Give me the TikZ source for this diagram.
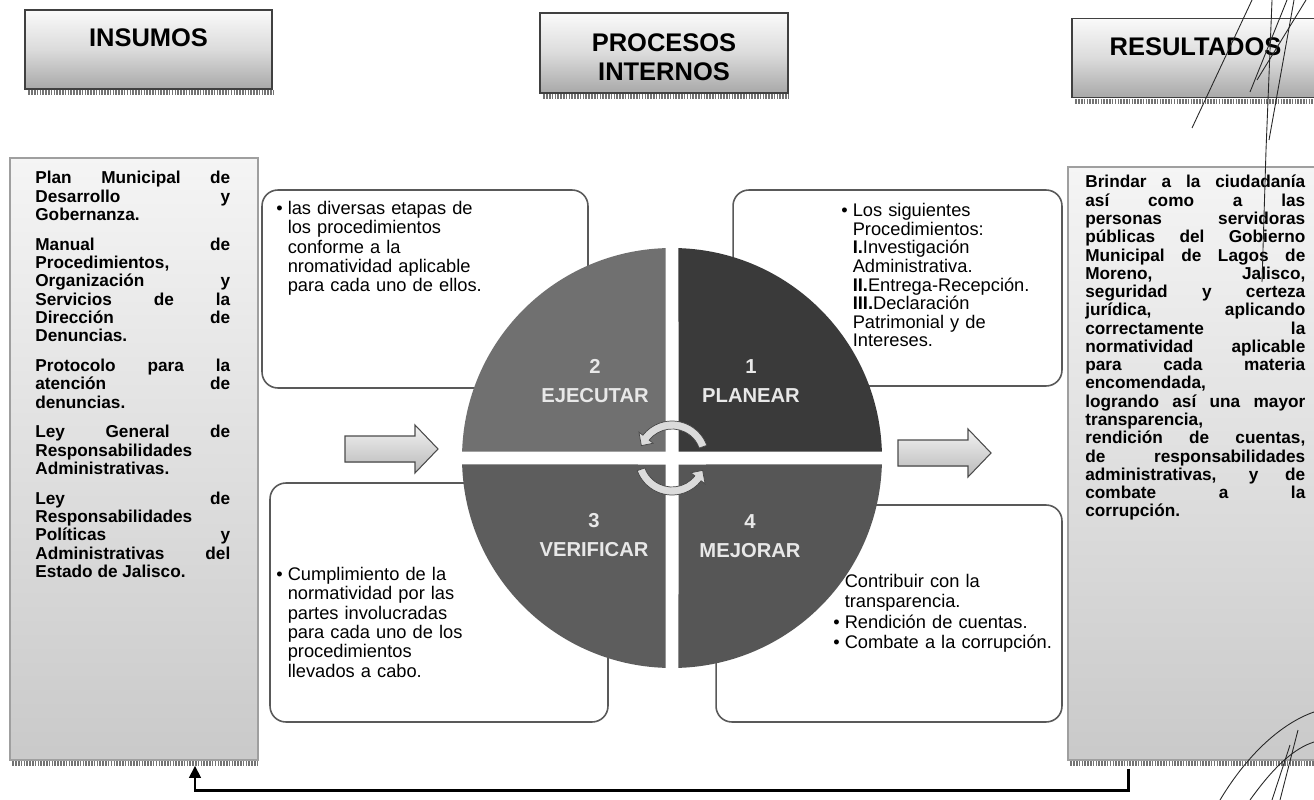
\documentclass[tikz,border=0pt]{standalone}
\usepackage{fontspec}
\setmainfont{Liberation Sans}
\usetikzlibrary{arrows.meta, positioning, calc}
\usepackage{xcolor}
\definecolor{pdcaOne}{RGB}{58, 58, 58}
\definecolor{pdcaTwo}{RGB}{112, 112, 112}
\definecolor{pdcaThree}{RGB}{93, 93, 93}
\definecolor{pdcaFour}{RGB}{86, 86, 86}
\definecolor{pdcaText}{RGB}{232, 232, 232}

\newcommand{\bul}{\makebox[6.5pt][l]{\textbullet}}
\newcommand{\ind}{\hspace*{6.5pt}}

\begin{document}
\begin{tikzpicture}[
    x=0.02cm, y=-0.02cm,
    hdrbox/.style={
        rectangle,
        draw=black!75,
        line width=0.8pt,
        top color=gray!4,
        bottom color=gray!68,
        middle color=gray!28,
        minimum width=4.94cm,
        minimum height=1.58cm
    },
    hdrtext/.style={
        font=\fontsize{14.5}{16.4}\selectfont\bfseries,
        align=center,
        inner sep=0pt,
        anchor=north
    },
    sidebox/.style={
        rectangle,
        draw=gray!75,
        line width=0.8pt,
        top color=gray!8,
        bottom color=gray!42
    },
    sidetext/.style={
        font=\fontsize{9.8}{10.4}\selectfont\bfseries,
        text width=3.9cm,
        align=justify,
        inner sep=0pt,
        anchor=north west,
        execute at begin node={\tolerance=10000\hbadness=10000}
    },
    notebox/.style={
        rectangle,
        rounded corners=9pt,
        draw=black!65,
        line width=0.9pt,
        fill=white
    },
    notetext/.style={
        font=\fontsize{10.4}{11}\selectfont,
        text width=4.4cm,
        align=left,
        inner sep=0pt,
        anchor=north west
    },
    qlabel/.style={
        font=\fontsize{11.5}{16.4}\selectfont\bfseries,
        text=pdcaText,
        align=center,
        inner sep=0pt
    },
    cyclearrow/.style={fill=gray!28, draw=gray!55!black, line width=0.4pt},
    flowarrow/.style={top color=gray!10, bottom color=gray!55, draw=gray!60!black, line width=0.6pt},
    hatch/.style={line width=3pt, dash pattern=on 0.9pt off 0.7pt, draw=black!55},
    feedback/.style={line width=1.7pt, draw=black, -{Triangle[length=7pt,width=6.5pt]}},
    sig/.style={line width=0.5pt, draw=black!85}
]

\useasboundingbox (0,0) rectangle (1314,800);
\fill[white] (0,0) rectangle (1314,800);

% Headers
\node[hdrbox] (insumosHdr) at (148.5,49.5) {};
\node[hdrbox, minimum width=4.96cm, minimum height=1.6cm] (procesosHdr) at (664,53) {};
\node[hdrbox] (resultadosHdr) at (1195.5,58) {};
\draw[hatch] ($(insumosHdr.south west)+(4,3)$) -- ($(insumosHdr.south east)+(2,3)$);
\draw[hatch] ($(procesosHdr.south west)+(4,3)$) -- ($(procesosHdr.south east)+(2,3)$);
\draw[hatch] ($(resultadosHdr.south west)+(4,3)$) -- ($(resultadosHdr.south east)+(2,3)$);
\node[hdrtext] (insumosLbl) at ($(insumosHdr.north)+(0,19)$) {INSUMOS};
\node[hdrtext] (procesosLbl) at ($(procesosHdr.north)+(0,21)$) {PROCESOS\\INTERNOS};
\node[hdrtext] (resultadosLbl) at ($(resultadosHdr.north)+(0,20)$) {RESULTADOS};

% Left column - inputs
\node[sidebox, minimum width=4.96cm, minimum height=12.04cm] (insumosBox) at (134,459) {};
\draw[hatch] ($(insumosBox.south west)+(3,3)$) -- ($(insumosBox.south east)+(1,3)$);
\node[sidetext] (insumosTxt) at (35,171) {
    Plan Municipal de\linebreak Desarrollo y\linebreak Gobernanza.\par\vspace{6.6pt}
    Manual de\linebreak Procedimientos,\linebreak Organización y\linebreak Servicios de la\linebreak Dirección de\linebreak Denuncias.\par\vspace{6.6pt}
    Protocolo para la\linebreak atención de\linebreak denuncias.\par\vspace{6.6pt}
    Ley General de\linebreak Responsabilidades\linebreak Administrativas.\par\vspace{6.6pt}
    Ley de\linebreak Responsabilidades\linebreak Políticas y\linebreak Administrativas del\linebreak Estado de Jalisco.
};

% Right column - results
\node[sidebox, minimum width=5cm, minimum height=11.86cm] (resultadosBox) at (1193,463.5) {};
\draw[hatch] ($(resultadosBox.south west)+(3,3)$) -- ($(resultadosBox.south east)+(1,3)$);
\node[sidetext, text width=4.4cm] (resultadosTxt) at (1085,175) {
    Brindar a la ciudadanía\linebreak así como a las\linebreak personas servidoras\linebreak públicas del Gobierno\linebreak Municipal de Lagos de\linebreak Moreno, Jalisco,\linebreak seguridad y certeza\linebreak jurídica, aplicando\linebreak correctamente la\linebreak normatividad aplicable\linebreak para cada materia\linebreak encomendada,\\
    logrando así una mayor\linebreak transparencia,\\
    rendición de cuentas,\linebreak de responsabilidades\linebreak administrativas, y de\linebreak combate a la\linebreak corrupción.
};

% Note boxes around the cycle
\node[notebox, minimum width=6.52cm, minimum height=3.96cm] (ejecutarBox) at (425,289) {};
\node[notebox, minimum width=6.58cm, minimum height=3.92cm] (planearBox) at (897.5,288) {};
\node[notebox, minimum width=6.76cm, minimum height=4.78cm] (verificarBox) at (439,602.5) {};
\node[notebox, minimum width=6.92cm, minimum height=4.34cm] (mejorarBox) at (889,613.5) {};

\node[notetext] (ejecutarTxt) at (276,201) {\bul las diversas etapas de\\ \ind los procedimientos\\ \ind conforme a la\\ \ind nromatividad aplicable\\ \ind para cada uno de ellos.};
\node[notetext, font=\fontsize{10.4}{10.6}\selectfont] (planearTxt) at (841,203) {\bul Los siguientes\\ \ind Procedimientos:\\ \ind \textbf{I.}Investigación\\ \ind Administrativa.\\ \ind \textbf{II.}Entrega-Recepción.\\ \ind \textbf{III.}Declaración\\ \ind Patrimonial y de\\ \ind Intereses.};
\node[notetext] (verificarTxt) at (276,567) {\bul Cumplimiento de la\\ \ind normatividad por las\\ \ind partes involucradas\\ \ind para cada uno de los\\ \ind procedimientos\\ \ind llevados a cabo.};
\node[notetext, font=\fontsize{10.4}{11.5}\selectfont] (mejorarTxt) at (833,574) {\bul Contribuir con la\\ \ind transparencia.\\ \bul Rendición de cuentas.\\ \bul Combate a la corrupción.};

% PDCA circle
\begin{scope}[shift={(672,458)}, yscale=-1]
    \fill[pdcaOne] (6.5,6.5) -- (88.23:210) arc[start angle=88.23, end angle=1.77, radius=210] -- cycle;
    \fill[pdcaTwo] (-6.5,6.5) -- (91.77:210) arc[start angle=91.77, end angle=178.23, radius=210] -- cycle;
    \fill[pdcaThree] (-6.5,-6.5) -- (181.77:210) arc[start angle=181.77, end angle=268.23, radius=210] -- cycle;
    \fill[pdcaFour] (6.5,-6.5) -- (271.77:210) arc[start angle=271.77, end angle=358.23, radius=210] -- cycle;
    % cycle arrows
    \filldraw[cyclearrow] (20:37) arc[start angle=20, end angle=142, radius=37] -- (142:42) -- (158:33) -- (142:24) -- (142:29) arc[start angle=142, end angle=20, radius=29] -- cycle;
    \filldraw[cyclearrow] (200:37) arc[start angle=200, end angle=322, radius=37] -- (322:42) -- (338:33) -- (322:24) -- (322:29) arc[start angle=322, end angle=200, radius=29] -- cycle;
\end{scope}

\node[qlabel] (planearLbl) at (751,381) {1\\PLANEAR};
\node[qlabel] (ejecutarLbl) at (595,381) {2\\EJECUTAR};
\node[qlabel] (verificarLbl) at (594,535) {3\\VERIFICAR};
\node[qlabel] (mejorarLbl) at (750,536) {4\\MEJORAR};

% Flow arrows
\filldraw[flowarrow, shift={(345,436)}] (0,0) -- (70,0) -- (70,-11) -- (93,13) -- (70,37) -- (70,26) -- (0,26) -- cycle;
\filldraw[flowarrow, shift={(898,440)}] (0,0) -- (70,0) -- (70,-11) -- (93,13) -- (70,37) -- (70,26) -- (0,26) -- cycle;

% Feedback loop
\draw[feedback] ($(resultadosBox.south)+(-65,8)$) -- ++(0,22) -| ($(insumosBox.south)+(61,5)$);

% Signature strokes
\draw[sig] (1192,128) -- (1252,0);
\draw[sig] (1250,92) -- (1287,0);
\draw[sig] (1257,80) -- (1306,0);
\draw[sig] (1262,282) -- (1266,150) -- (1272,0);
\draw[sig] (1269,140) -- (1294,0);
\draw[sig] (1220,800) .. controls (1250,750) and (1285,722) .. (1314,712);
\draw[sig] (1250,800) .. controls (1275,765) and (1295,748) .. (1314,742);
\draw[sig] (1280,800) -- (1298,730);
\draw[sig] (1272,800) -- (1290,745);

\end{tikzpicture}
\end{document}
